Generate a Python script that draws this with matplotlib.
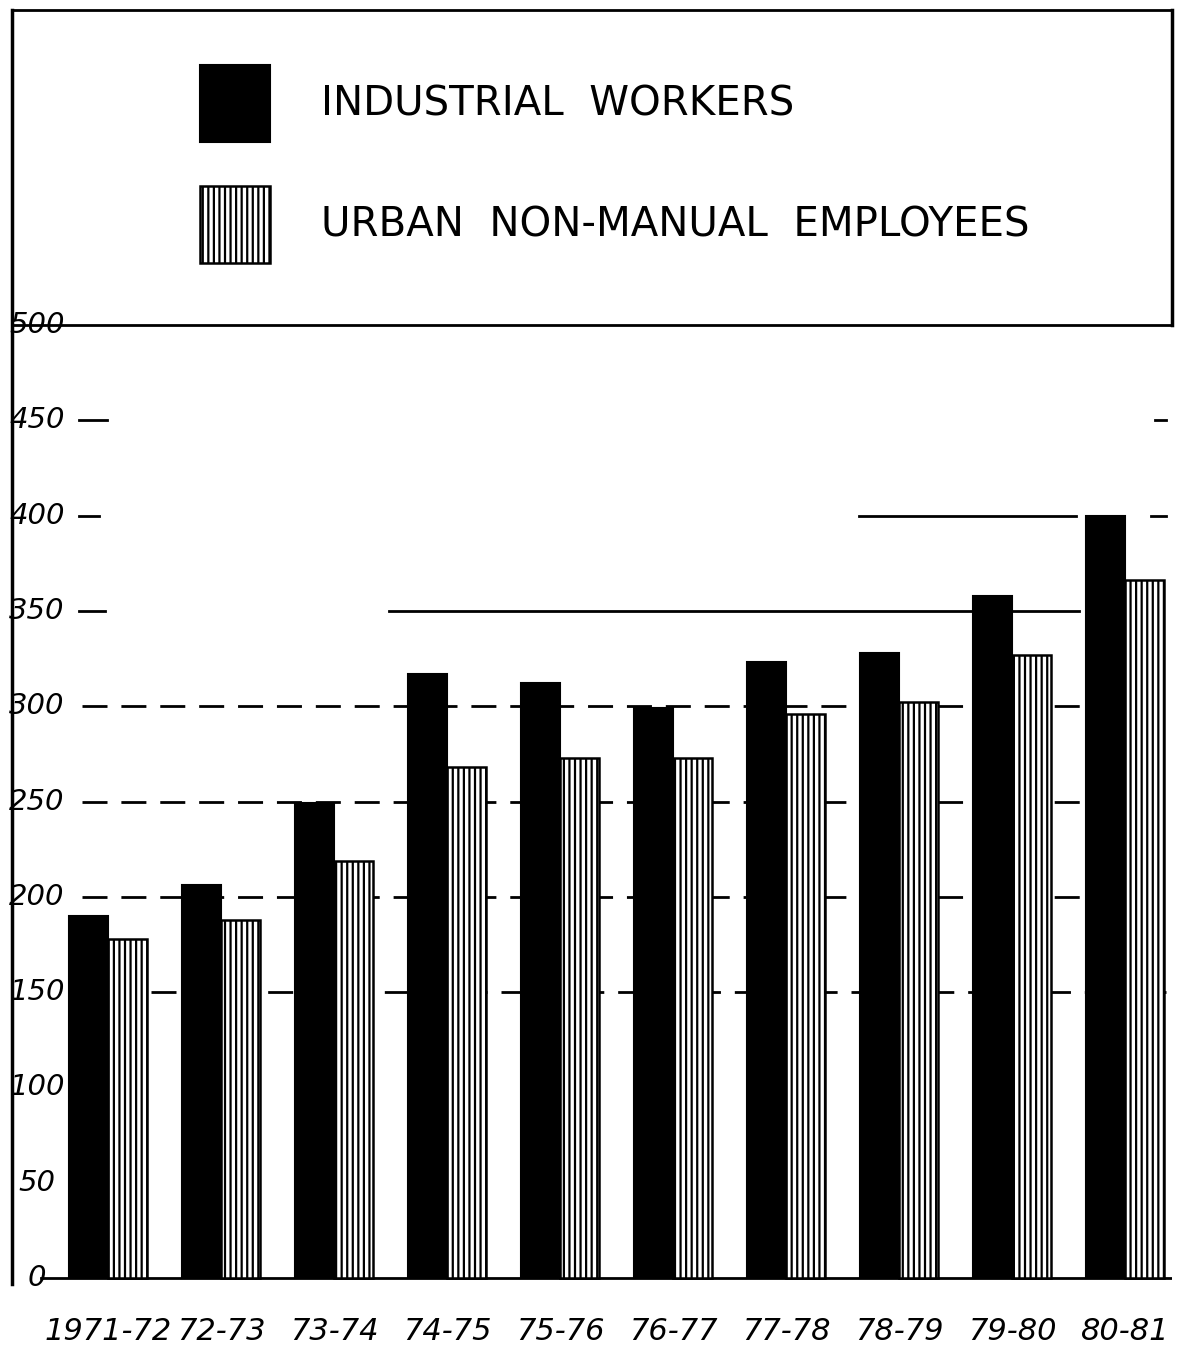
import numpy as np
import matplotlib
matplotlib.use("Agg")
import matplotlib.pyplot as plt
import matplotlib.transforms as mtransforms
from matplotlib import font_manager

""" Data (read off the scanned chart) """
years = ["1971-72", "72-73", "73-74", "74-75", "75-76",
         "76-77", "77-78", "78-79", "79-80", "80-81"]
industrial = [190, 206, 249, 317, 312, 299, 323, 328, 358, 400]
urban = [178, 188, 219, 268, 273, 273, 296, 302, 327, 366]
yticks = [0, 50, 100, 150, 200, 250, 300, 350, 400, 450, 500]

plt.rcParams['hatch.linewidth'] = 1.6
plt.rcParams['font.family'] = ['DejaVu Sans']

# narrow face for the crowded year labels, if there is one
names = {f.name for f in font_manager.fontManager.ttflist}
narrow = "Liberation Sans Narrow" if "Liberation Sans Narrow" in names else "DejaVu Sans"
lab_size = 25 if narrow != "DejaVu Sans" else 22

W, H = 1178, 1357
fig = plt.figure(figsize=(W / 100, H / 100), dpi=100)
# axes box in pixels: left 12, right 1172, top 10, bottom 1284
ax = fig.add_axes([12 / W, (H - 1284) / H, 1160 / W, (1284 - 10) / H])

idx = np.arange(len(years))
w = 0.345
ax.set_xlim(-0.85, 9.416)
ax.set_ylim(-3.15, 665.3)

""" grid lines, roughly like the hand drawn ones """
ax.axhline(500, color="black", lw=2, zorder=1)
for v in [150, 200, 250, 300]:
    ax.axhline(v, xmin=0.06 if v > 150 else 0.12, xmax=0.995, color="black",
               lw=2, ls=(0, (9, 5)), zorder=1)
ax.axhline(350, xmin=0.058, xmax=0.08, color="black", lw=2, zorder=1)
ax.axhline(350, xmin=0.325, xmax=0.92, color="black", lw=2, zorder=1)
ax.axhline(400, xmin=0.058, xmax=0.075, color="black", lw=2, zorder=1)
ax.axhline(400, xmin=0.73, xmax=0.917, color="black", lw=2, zorder=1)
ax.axhline(400, xmin=0.982, xmax=0.995, color="black", lw=2, zorder=1)
ax.axhline(450, xmin=0.058, xmax=0.082, color="black", lw=2, zorder=1)
ax.axhline(450, xmin=0.985, xmax=0.995, color="black", lw=2, zorder=1)
ax.axhline(0, xmin=0.025, xmax=1.0, color="black", lw=2, zorder=1)

""" bars """
ax.bar(idx - w / 2, industrial, width=w, color="black", edgecolor="black",
       lw=1.5, zorder=3, label="INDUSTRIAL  WORKERS")
ax.bar(idx + w / 2, urban, width=w, color="white", edgecolor="black",
       hatch="|||", lw=1.8, zorder=3, label="URBAN  NON-MANUAL  EMPLOYEES")

""" frame """
ax.spines["bottom"].set_visible(False)
ax.spines["left"].set_linewidth(2.5)
ax.spines["top"].set_linewidth(2)
ax.spines["right"].set_linewidth(2.5)
ax.spines["right"].set_bounds(500, 665.3)
ax.set_xticks([])
ax.set_yticks([])

# y labels sit inside the axis box, handwritten look -> italic
trans = mtransforms.blended_transform_factory(ax.transAxes, ax.transData)
for v in yticks:
    ax.text(0.0215, v, str(v), transform=trans, ha="center", va="center",
            fontsize=21, style="italic", zorder=4)

# category labels below the baseline
for i, lab in enumerate(years):
    ax.text(i, -28, lab, ha="center", va="center", fontsize=lab_size,
            style="italic", family=narrow, clip_on=False)

""" legend """
leg = ax.legend(loc="upper left", bbox_to_anchor=(0.131, 0.985),
                frameon=False, fontsize=29, handlelength=1.74,
                handleheight=2.55, labelspacing=1.1, handletextpad=1.25)

fig.savefig("out.png", dpi=100)
